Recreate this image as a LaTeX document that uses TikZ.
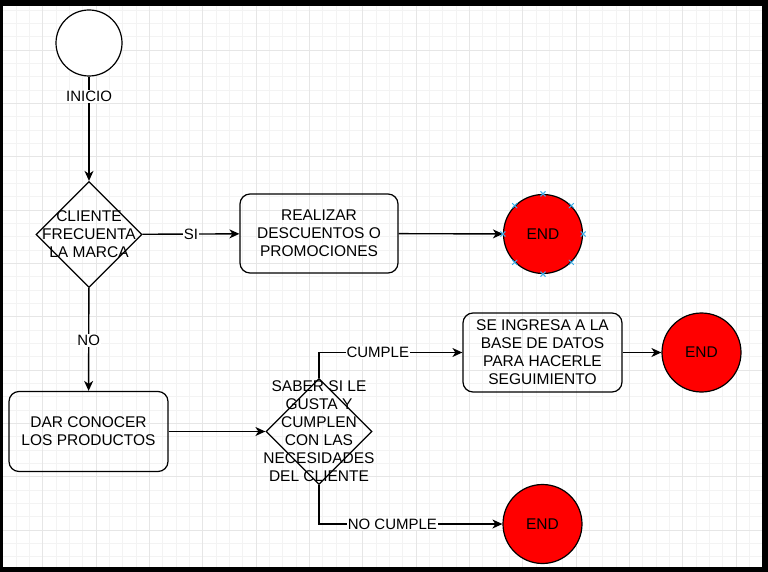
\documentclass[tikz,border=0pt]{standalone}
\usepackage{fontspec}
\setmainfont{Liberation Sans}
\usetikzlibrary{shapes.geometric,arrows.meta}
\definecolor{rejillamayor}{HTML}{E6E6E6}
\definecolor{rejillamenor}{HTML}{F3F3F3}
\definecolor{azulmarca}{HTML}{3DAEE9}
\tikzset{
  proceso/.style={draw, rounded corners=10pt, line width=1.2pt, minimum width=158pt, minimum height=79pt, align=center, inner sep=0pt},
  decision/.style={draw, diamond, line width=1.2pt, minimum width=106pt, minimum height=106pt, inner sep=0pt},
  fin/.style={draw, circle, fill=red, line width=1.2pt, minimum size=79pt, inner sep=0pt},
  flecha/.style={-{Stealth[length=10pt,width=9pt,inset=3pt]}, line width=1.4pt},
  etiqueta/.style={fill=white, inner sep=1pt, font=\fontsize{15}{17}\selectfont}
}
\begin{document}
\begin{tikzpicture}[x=1pt,y=-1pt,font=\fontsize{15.5}{18}\selectfont]
\useasboundingbox (0,0) rectangle (768,572);
\fill[black] (0,0) rectangle (768,572);
\fill[white] (3.3,6) rectangle (762.3,566.7);
\foreach \k in {-2,...,53} \draw[rejillamenor, line width=0.8pt] ({42.7+13.333*\k},6) -- ({42.7+13.333*\k},566.7);
\foreach \k in {-3,...,38} \draw[rejillamenor, line width=0.8pt] (3.3,{50+13.333*\k}) -- (762.3,{50+13.333*\k});
\foreach \k in {0,...,13} \draw[rejillamayor, line width=0.8pt] ({42.7+53.333*\k},6) -- ({42.7+53.333*\k},566.7);
\foreach \k in {0,...,9} \draw[rejillamayor, line width=0.8pt] (3.3,{50+53.333*\k}) -- (762.3,{50+53.333*\k});

\node[draw, circle, fill=white, line width=1.2pt, minimum size=66pt] (inicio) at (89,43) {};
\node[decision, label={[align=center]center:CLIENTE\\FRECUENTA\\LA MARCA}] (cliente) at (89,234.5) {};
\node[proceso] (realizar) at (319,233.5) {REALIZAR\\DESCUENTOS O\\PROMOCIONES};
\node[fin] (fin1) at (543,234) {END};
\node[proceso, minimum width=159pt, minimum height=80pt] (dar) at (88.5,431.5) {DAR CONOCER\\LOS PRODUCTOS};
\node[decision] (saber) at (319,431.5) {};
\node[proceso, minimum width=159pt] (ingresa) at (542.5,352.5) {SE INGRESA A LA\\BASE DE DATOS\\PARA HACERLE\\SEGUIMIENTO};
\node[fin] (fin2) at (701.5,352.5) {END};
\node[fin] (fin3) at (542.5,524) {END};

\draw[flecha] (inicio) -- node[etiqueta, pos=0.19] {INICIO} (cliente);
\draw[flecha] (cliente) -- node[etiqueta] {SI} (realizar);
\draw[flecha] (realizar) -- (fin1);
\draw[flecha] (cliente) -- node[etiqueta, pos=0.51] {NO} (dar);
\draw[flecha] (dar) -- (saber);
\draw[flecha] (saber.north) |- node[etiqueta, pos=0.705] {CUMPLE} (ingresa);
\draw[flecha] (ingresa) -- (fin2);
\draw[flecha] (saber.south) |- node[etiqueta, pos=0.70] {NO CUMPLE} (fin3);
\node[align=center] (sabertexto) at (319,431.5) {SABER SI LE\\GUSTA Y\\CUMPLEN\\CON LAS\\NECESIDADES\\DEL CLIENTE};

\foreach \ang in {0,45,...,315}
  \draw[azulmarca, line width=1pt] (fin1.\ang) +(-2.5,-2.5) -- +(2.5,2.5) +(-2.5,2.5) -- +(2.5,-2.5);
\end{tikzpicture}
\end{document}
